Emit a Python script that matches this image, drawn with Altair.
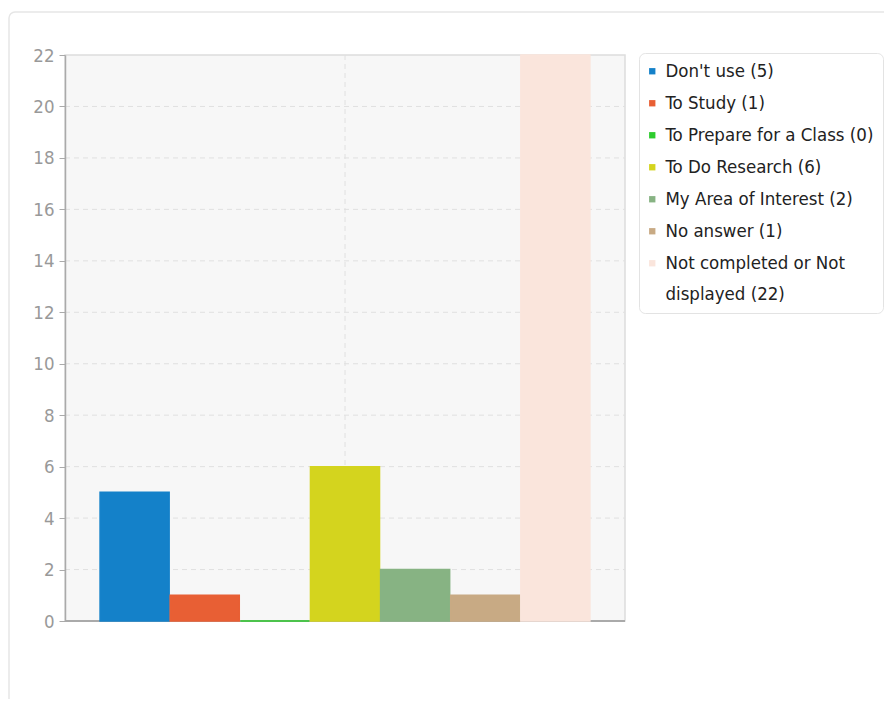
import altair as alt
import pandas as pd

categories = ["Don't use", "To Study", "To Prepare for a Class", "To Do Research",
              "My Area of Interest", "No answer", "Not completed or Not displayed"]
counts = [5, 1, 0, 6, 2, 1, 22]
colors = ["#1481c9", "#e85f34", "#2ecc2e", "#d4d41e", "#87b383", "#c8aa84", "#fae5dc"]
y_ticks = list(range(0, 23, 2))

labels = [f"{c} ({n})" for c, n in zip(categories, counts)]
df = pd.DataFrame({"label": labels, "count": counts})
grid_df = pd.DataFrame({"tick": y_ticks[1:-1]})
one = pd.DataFrame({"a": [0]})

FONT = "DejaVu Sans Condensed"
FS = 18.5
W, H = 560, 566
PL, PT = 57, 47
CW, CH = 876, 691

color_scale = alt.Scale(domain=labels, range=colors)
y_scale = alt.Scale(domain=[0, 22], nice=False)

card = alt.Chart(one).mark_rect(
    fill="white", stroke="#e6e6e6", strokeWidth=1.5, cornerRadius=6
).encode(x=alt.value(-PL + 1), x2=alt.value(W + 400), y=alt.value(-PT + 4), y2=alt.value(H + 200))

panel = alt.Chart(one).mark_rect(
    fill="#f7f7f7", stroke="#dddddd", strokeWidth=1.5
).encode(x=alt.value(0), x2=alt.value(W), y=alt.value(0), y2=alt.value(H))

grid = alt.Chart(grid_df).mark_rule(
    color="#e0e0e0", strokeDash=[5, 4], strokeWidth=1
).encode(y=alt.Y("tick:Q", scale=y_scale), x=alt.value(0), x2=alt.value(W))

vline = alt.Chart(one).mark_rule(
    color="#e0e0e0", strokeDash=[5, 4], strokeWidth=1
).encode(x=alt.value(W / 2), y=alt.value(0), y2=alt.value(H))

baseline = alt.Chart(one).mark_rule(color="#aaaaaa", strokeWidth=2).encode(
    y=alt.datum(0, scale=y_scale), x=alt.value(0), x2=alt.value(W))

bars = alt.Chart(df).mark_bar(strokeWidth=1.5).encode(
    x=alt.X("label:N", sort=labels,
            scale=alt.Scale(paddingInner=0.015, paddingOuter=0.5),
            axis=None),
    y=alt.Y("count:Q", scale=y_scale,
            axis=alt.Axis(values=y_ticks, title=None, grid=False, zindex=1,
                          domainColor="#aaaaaa", domainWidth=1.5,
                          tickColor="#aaaaaa", tickSize=6, labelColor="#999999",
                          labelFont=FONT, labelFontSize=FS, labelPadding=5)),
    color=alt.Color("label:N", sort=labels, scale=color_scale,
                    legend=alt.Legend(
                        title=None, orient="none", legendX=574, legendY=-2,
                        symbolType="square", symbolSize=40, symbolStrokeWidth=0,
                        symbolOffset=-5,
                        labelFont=FONT, labelFontSize=FS, labelColor="#222222",
                        labelLimit=300, rowPadding=13, padding=9, labelOffset=4,
                        fillColor="white", strokeColor="#e3e3e3", cornerRadius=6,
                        labelExpr="datum.label == 'Not completed or Not displayed (22)' ? ['Not completed or Not', 'displayed (22)'] : datum.label")),
    stroke=alt.Stroke("label:N", sort=labels, scale=color_scale, legend=None),
)

chart = alt.layer(card, panel, grid, vline, baseline, bars).properties(
    width=W, height=H,
    autosize=alt.AutoSizeParams(type="none"),
    padding={"left": PL, "top": PT, "right": CW - PL - W, "bottom": CH - PT - H},
).configure_view(strokeWidth=0).configure(
    style={"guide-label": {"lineHeight": 31}}
)

chart.save("out.html", embed_options={"renderer": "svg", "actions": False})
